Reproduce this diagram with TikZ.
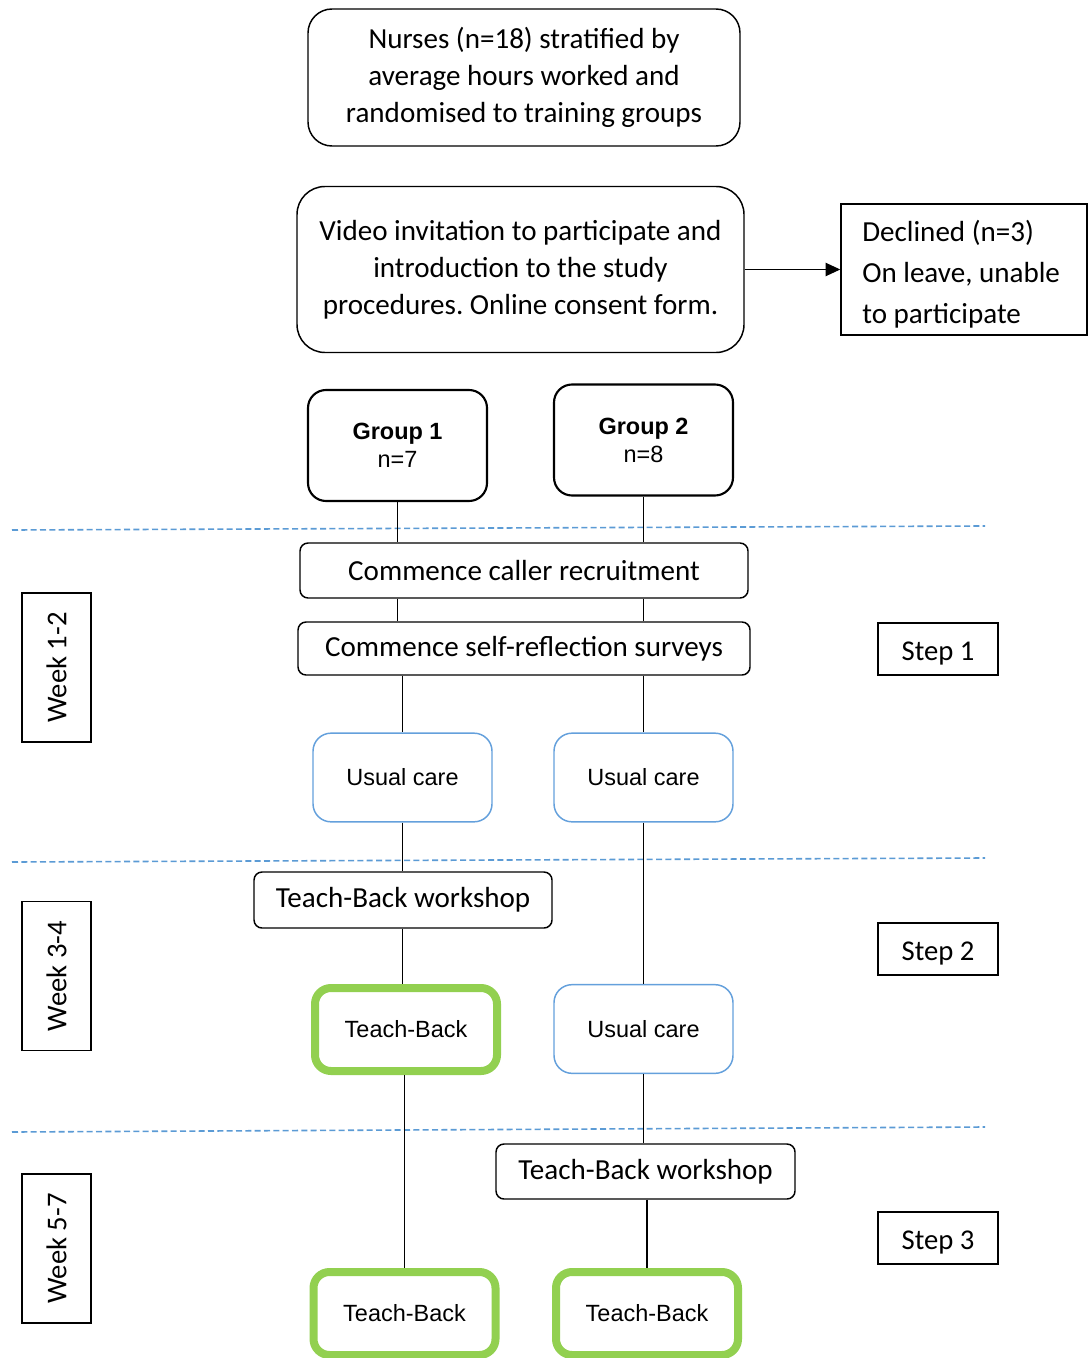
\documentclass[tikz,border=0pt]{standalone}
\usepackage{fontspec}
\setmainfont{Carlito}
\newfontfamily\arial{Liberation Sans}
\usetikzlibrary{arrows.meta}
\frenchspacing
\definecolor{dashblue}{RGB}{91,155,213}
\definecolor{boxblue}{RGB}{100,160,220}
\definecolor{tbgreen}{RGB}{146,208,80}
\tikzset{
  base/.style={draw=black, line width=1.1pt, align=center, inner sep=0pt, font=\fontsize{21.8}{27.75}\selectfont},
  roundbox/.style={base, rounded corners=6pt},
  bigbox/.style={base, rounded corners=18pt},
  groupbox/.style={draw=black, line width=1.6pt, rounded corners=13.5pt, align=center, minimum width=134.25pt, minimum height=83.25pt, font=\arial\fontsize{17.6}{21}\selectfont},
  ucbox/.style={draw=boxblue, line width=1.1pt, rounded corners=13.5pt, align=center, minimum width=134.25pt, minimum height=66.5pt, font=\arial\fontsize{17.6}{21}\selectfont},
  tbbox/.style={draw=tbgreen, line width=6pt, rounded corners=12pt, align=center, minimum width=136.5pt, minimum height=62.25pt, font=\arial\fontsize{17.6}{21}\selectfont},
  sidebox/.style={draw=black, line width=1.1pt, inner sep=0pt, font=\fontsize{21.5}{25}\selectfont},
  steptext/.style={sidebox, text height=16.5pt, text depth=0pt},
  conn/.style={draw=black, line width=0.9pt},
  sep/.style={draw=dashblue, line width=1.2pt, dash pattern=on 4.5pt off 2.5pt}
}
\begin{document}
\begin{tikzpicture}[x=0.75pt, y=-0.75pt]
\clip (0,0) rectangle (1091,1358);
\fill[white] (0,0) rectangle (1091,1358);

% top boxes
\node[bigbox, minimum width=324pt, minimum height=102.75pt] (nurses) at (524,77.5)
  {Nurses (n=18) stratified by\\average hours worked and\\randomised to training groups};
\node[bigbox, rounded corners=21pt, minimum width=335.25pt, minimum height=124.5pt] (video) at (520.5,269.5)
  {Video invitation to participate and\\introduction to the study\\procedures. Online consent form.};
\node[draw=black, line width=1.1pt, inner sep=0pt, minimum width=184.5pt, minimum height=98.25pt] (declined) at (964,269.5) {};
\node[inner sep=0pt, anchor=west] (declinedtext) at (862,274)
  {\parbox{153pt}{\raggedright\fontsize{21.8}{30.75}\selectfont Declined (n=3)\\On leave, unable\\to participate}};
\draw[conn, -{Triangle[length=11pt,width=10pt]}] (video.east) -- (video.east -| declined.west);

% groups
\node[groupbox] (g1) at (397.5,445.5) {\textbf{Group 1}\\n=7};
\node[groupbox] (g2) at (643.5,440) {\textbf{Group 2}\\n=8};

% separators
\coordinate (s1a) at (12,530); \coordinate (s1b) at (985,526);
\coordinate (s2a) at (12,862); \coordinate (s2b) at (985,858);
\coordinate (s3a) at (12,1132); \coordinate (s3b) at (985,1127);
\draw[sep] (s1a) -- (s1b);
\draw[sep] (s2a) -- (s2b);
\draw[sep] (s3a) -- (s3b);

% step 1
\node[roundbox, minimum width=336pt, minimum height=41.25pt] (caller) at (524,570.5) {Commence caller recruitment};
\node[roundbox, minimum width=339pt, minimum height=39.75pt, text height=15pt, text depth=3pt] (survey) at (524,648.5) {Commence self-reflection surveys};
\node[ucbox] (uc1) at (402.5,777.5) {Usual care};
\node[ucbox] (uc2) at (643.5,777.5) {Usual care};

% step 2
\node[roundbox, minimum width=223.5pt, minimum height=42pt] (ws1) at (403,900) {Teach-Back workshop};
\node[tbbox] (tb1) at (406,1029.5) {Teach-Back};
\node[ucbox] (uc3) at (643.5,1029) {Usual care};

% step 3
\node[roundbox, minimum width=224.25pt, minimum height=41.25pt] (ws2) at (645.5,1171.5) {Teach-Back workshop};
\node[tbbox] (tb2) at (404.5,1313.5) {Teach-Back};
\node[tbbox] (tb3) at (647,1313.5) {Teach-Back};

% connectors
\draw[conn] (g1.south) -- (g1.south |- caller.north);
\draw[conn] (g2.south) -- (g2.south |- caller.north);
\draw[conn] (g1.south |- caller.south) -- (g1.south |- survey.north);
\draw[conn] (g2.south |- caller.south) -- (g2.south |- survey.north);
\draw[conn] (uc1.north |- survey.south) -- (uc1.north);
\draw[conn] (uc2.north |- survey.south) -- (uc2.north);
\draw[conn] (uc1.south) -- (uc1.south |- ws1.north);
\draw[conn] (uc1.south |- ws1.south) -- (tb1.north -| uc1.south);
\draw[conn] (uc2.south) -- (uc3.north);
\draw[conn] (tb1.south -| tb2.north) -- (tb2.north);
\draw[conn] (uc3.south) -- (uc3.south |- ws2.north);
\draw[conn] (tb3.north |- ws2.south) -- (tb3.north);

% side labels
\node[sidebox, minimum width=51.75pt, minimum height=111.75pt] (w12) at (56.5,667.5) {};
\node[rotate=90, font=\fontsize{21.5}{25}\selectfont] (w12t) at (w12.center) {Week 1-2};
\node[sidebox, minimum width=51.75pt, minimum height=111.75pt] (w34) at (56.5,976) {};
\node[rotate=90, font=\fontsize{21.5}{25}\selectfont] (w34t) at (w34.center) {Week 3-4};
\node[sidebox, minimum width=51.75pt, minimum height=111.75pt] (w57) at (56.5,1248.5) {};
\node[rotate=90, font=\fontsize{21.5}{25}\selectfont] (w57t) at (w57.center) {Week 5-7};

\node[steptext, minimum width=90pt, minimum height=39pt] (st1) at (938,649) {Step 1};
\node[steptext, minimum width=90pt, minimum height=39pt] (st2) at (938,949) {Step 2};
\node[steptext, minimum width=90pt, minimum height=39pt] (st3) at (938,1238) {Step 3};
\end{tikzpicture}
\end{document}
